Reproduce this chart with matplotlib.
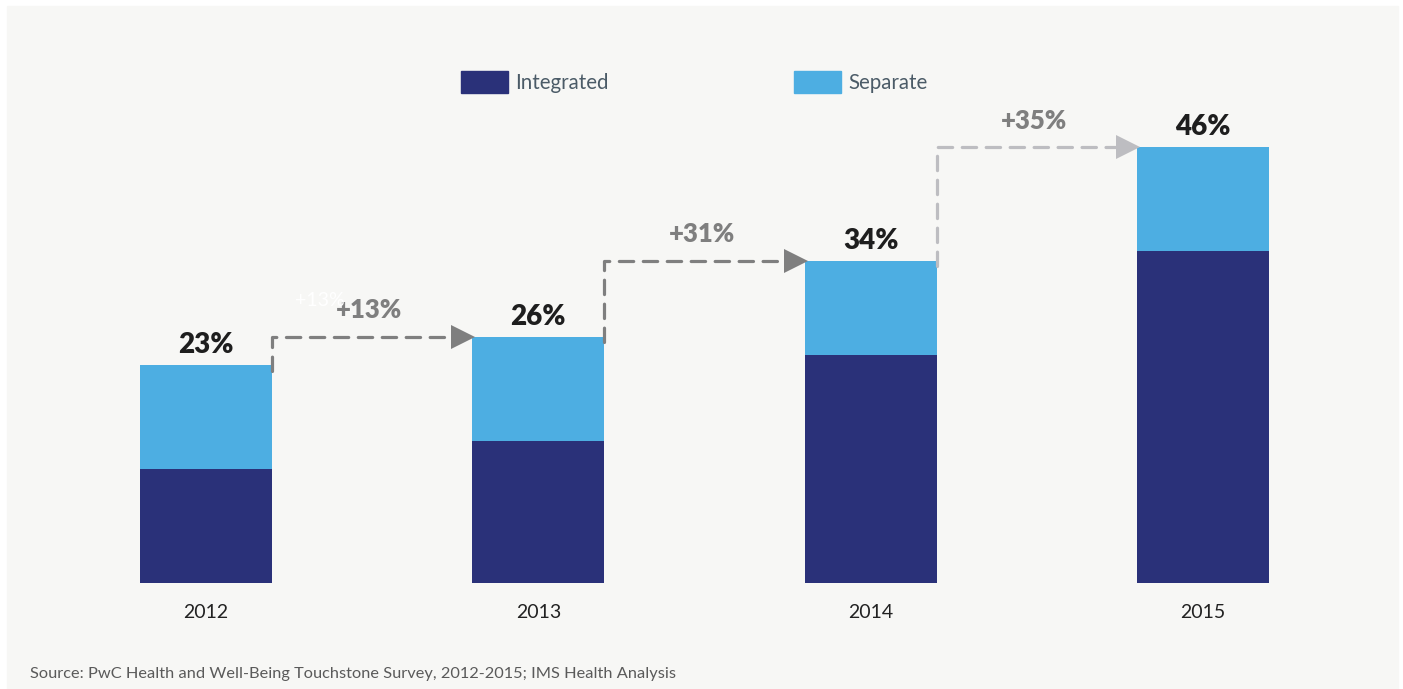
import matplotlib
matplotlib.use('Agg')
from matplotlib import pyplot as plt
from matplotlib.patches import Rectangle, Patch

years = ['2012', '2013', '2014', '2015']
integrated = [12, 15, 24, 35]
separate = [11, 11, 10, 11]
totals = [23, 26, 34, 46]
changes = ['+13%', '+31%', '+35%']

navy = '#2a3179'
sky = '#4daee2'
arrow_cols = ['#7f7f7f', '#7f7f7f', '#bdbdc1']

plt.rcParams['font.family'] = ['Lato', 'DejaVu Sans']

W, H = 1403, 689
fig = plt.figure(figsize=(W / 100, H / 100), dpi=100, facecolor='white')
fig.add_artist(Rectangle((7 / W, 0), (1398 - 7) / W, 1 - 6 / H,
                         transform=fig.transFigure, color='#f7f7f5', zorder=-10))

# bars: center 0 at 206px, 332.3px per unit, 0% at y=583, 9.48px per %
unit = 332.3
ax = fig.add_axes([(206 - 0.5 * unit) / W, (H - 583) / H, 4 * unit / W, 50 * 9.48 / H])
ax.set_xlim(-0.5, 3.5)
ax.set_ylim(0, 50)
ax.patch.set_alpha(0)
for s in ax.spines.values():
    s.set_visible(False)

w = 132 / unit
x = list(range(len(years)))
ax.bar(x, integrated, width=w, color=navy, label='Integrated')
ax.bar(x, separate, width=w, bottom=integrated, color=sky, label='Separate')

for i, t in enumerate(totals):
    ax.annotate(f'{t}%', (i, t), xytext=(0, 5), textcoords='offset points',
                ha='center', va='bottom', fontsize=20, fontweight='heavy', color='#1e1e1e')

head = 9 / unit
for i, lab in enumerate(changes):
    x0 = i + w / 2
    x1 = i + 1 - w / 2
    y0 = totals[i]
    y1 = totals[i + 1]
    c = arrow_cols[i]
    ax.plot([x0, x0, x1 - 2 * head], [y0 - 0.6, y1, y1], color=c, lw=2.3,
            ls=(0, (4.5, 3)), dash_capstyle='round', solid_joinstyle='round')
    ax.plot([x1 - head], [y1], marker='>', ms=17, color=c, mew=0)
    ax.annotate(lab, ((x0 + x1) / 2, y1), xytext=(-2, 19), textcoords='offset points',
                ha='center', va='center', fontsize=18.5, fontweight='heavy', color='#7f7f7f')

# faint duplicate label left in the source image
ax.annotate('+13%', ((0 + w / 2 + 1 - w / 2) / 2, totals[1]), xytext=(-38, 26),
            textcoords='offset points', ha='center', va='center', fontsize=14,
            color='white')

ax.set_yticks([])
ax.set_xticks(x)
ax.set_xticklabels(years, fontsize=14, color='#222222')
ax.tick_params(axis='x', length=0, pad=15)

ax.legend(handles=[Patch(color=navy, label='Integrated'), Patch(color=sky, label='Separate')],
          ncol=2, frameon=False, loc='upper left', bbox_to_anchor=(461 / W, 1 - 71 / H),
          bbox_transform=fig.transFigure, borderpad=0, borderaxespad=0,
          fontsize=14.8, handlelength=2.3, handleheight=1.3, handletextpad=0.35,
          columnspacing=9.0, labelcolor='#4b5b67')

fig.text(30 / W, 1 - 674 / H, 'Source: PwC Health and Well-Being Touchstone Survey, 2012-2015; IMS Health Analysis',
         fontsize=11.8, color='#5a5a5a', va='center', ha='left')

plt.savefig('out.png', dpi=100, facecolor=fig.get_facecolor())
